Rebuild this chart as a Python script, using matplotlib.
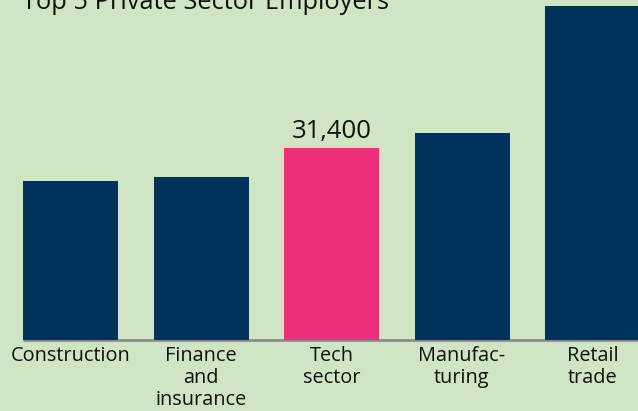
import matplotlib
matplotlib.use("Agg")
import matplotlib.pyplot as plt
import matplotlib.transforms as mtransforms

plt.rcParams['font.family'] = ['Open Sans', 'DejaVu Sans']

title = "Top 5 Private Sector Employers"
categories = ["Construction", "Finance\nand\ninsurance", "Tech\nsector", "Manufac-\nturing", "Retail\ntrade"]
values = [26000, 26700, 31400, 33900, 54600]
highlight = "Tech\nsector"
highlight_label = "31,400"

BG = "#cfe5c4"
NAVY = "#00335c"
PINK = "#ee2d7b"

W, H = 638, 411
fig = plt.figure(figsize=(W / 100, H / 100), dpi=100, facecolor=BG)
base_px = 340
ax = fig.add_axes([0, (H - base_px) / H, 1, base_px / H])
ax.set_facecolor(BG)

px_per_unit = 130.5
x0_px = 70.5
ax.set_xlim(-x0_px / px_per_unit, (W - x0_px) / px_per_unit)
ax.set_ylim(0, 31400 / 192 * base_px)

width = 95 / px_per_unit
xs = list(range(len(categories)))
colors = [PINK if c == highlight else NAVY for c in categories]
ax.bar(xs, values, width=width, color=colors, zorder=3)

# baseline
ax.plot([xs[0] - width / 2, ax.get_xlim()[1]], [0, 0], color="#8c8c8c", lw=2,
        zorder=2, clip_on=False, solid_capstyle='butt')

for s in ax.spines.values():
    s.set_visible(False)
ax.set_xticks([])
ax.set_yticks([])

trans = mtransforms.blended_transform_factory(ax.transData, fig.transFigure)
for x, c in zip(xs, categories):
    ax.text(x, 1 - 346 / H, c, transform=trans, ha='center', va='top',
            fontsize=14.3, color="#111111", linespacing=1.12)

hi = categories.index(highlight)
ax.annotate(highlight_label, (xs[hi], values[hi]), xytext=(0, 7.5),
            textcoords='offset points', ha='center', va='baseline',
            fontsize=18.5, color="#111111")

fig.text(22 / W, 1 - 9 / H, title, ha='left', va='baseline', fontsize=18.3,
         color="#111111")

fig.savefig("out.png", dpi=100, facecolor=BG)
